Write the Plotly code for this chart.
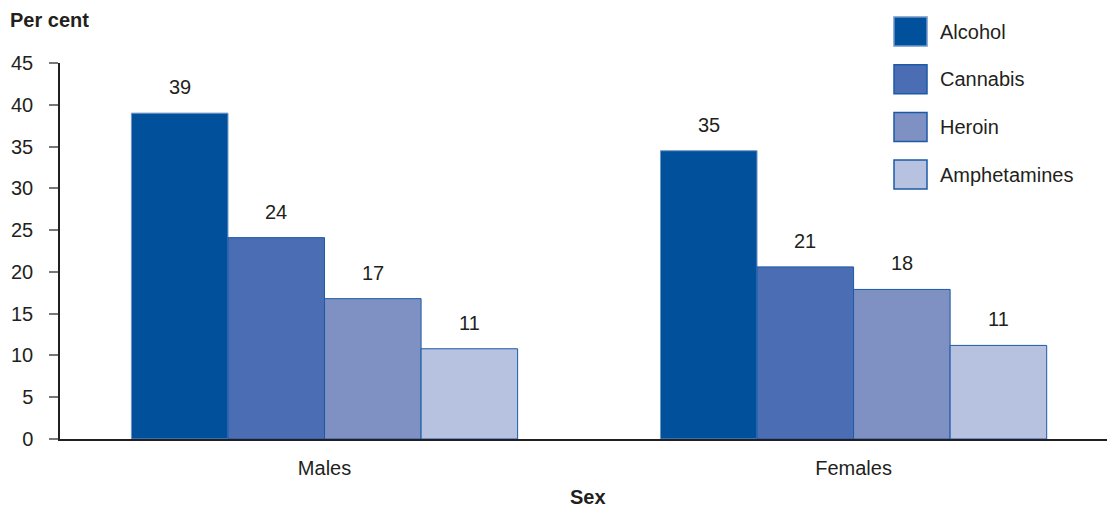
import plotly.graph_objects as go

categories = ["Males", "Females"]
series_names = ["Alcohol", "Cannabis", "Heroin", "Amphetamines"]
alcohol = [39.0, 34.5]
cannabis = [24.1, 20.6]
heroin = [16.8, 17.9]
amphetamines = [10.8, 11.2]
labels = {
    "Alcohol": ["39", "35"],
    "Cannabis": ["24", "21"],
    "Heroin": ["17", "18"],
    "Amphetamines": ["11", "11"],
}
y_ticks = [0, 5, 10, 15, 20, 25, 30, 35, 40, 45]

values = [alcohol, cannabis, heroin, amphetamines]
colors = ["#00509c", "#4a6db3", "#7f91c3", "#b7c1e0"]
edge = ["#6f95c8", "#1c5aa8", "#1c5aa8", "#1c5aa8"]

FONT = "Liberation Sans, Arial, Helvetica, sans-serif"
TXT = "#231f20"
FS = 20

L, R, T, B = 60, 0, 63, 69
W, H = 1107, 508
pw, ph = W - L - R, H - T - B

bargap = 0.27
fig = go.Figure()
for name, vals, c, e in zip(series_names, values, colors, edge):
    fig.add_trace(go.Bar(
        name=name, x=categories, y=vals,
        marker=dict(color=c, line=dict(color=e, width=1)),
        showlegend=False, hoverinfo="x+y+name",
    ))

# value labels above bars
n = len(series_names)
bw = (1 - bargap) / n
annotations = []
for j, name in enumerate(series_names):
    off = -(1 - bargap) / 2 + bw * (j + 0.5)
    for i, cat in enumerate(categories):
        annotations.append(dict(
            x=i + off, y=values[j][i], xref="x", yref="y",
            text=labels[name][i], showarrow=False,
            yanchor="middle", yshift=26,
            font=dict(family=FONT, size=FS, color=TXT),
        ))

# custom legend
sq_x0, sq_w, sq_h = 894, 33, 29
row0, row_step = 17, 47.7
shapes = []
for j, name in enumerate(series_names):
    top = row0 + j * row_step
    shapes.append(dict(
        type="rect", xref="paper", yref="paper",
        x0=(sq_x0 - L) / pw, x1=(sq_x0 + sq_w - L) / pw,
        y0=(H - B - top) / ph, y1=(H - B - top - sq_h) / ph,
        fillcolor=colors[j], line=dict(color=edge[j], width=1.5),
    ))
    annotations.append(dict(
        x=(938 - L) / pw, y=(H - B - top - sq_h / 2) / ph,
        xref="paper", yref="paper", xanchor="left", yanchor="middle",
        text=name, showarrow=False,
        font=dict(family=FONT, size=FS, color=TXT),
    ))

annotations.append(dict(
    x=0, y=1, xref="paper", yref="paper", xanchor="left", yanchor="middle",
    xshift=-52, yshift=43, text="<b>Per cent</b>", showarrow=False,
    font=dict(family=FONT, size=FS, color=TXT),
))
annotations.append(dict(
    x=0.5, y=0, xref="paper", yref="paper", xanchor="center", yanchor="middle",
    xshift=4, yshift=-58, text="<b>Sex</b>", showarrow=False,
    font=dict(family=FONT, size=FS, color=TXT),
))

fig.update_layout(
    width=W, height=H,
    margin=dict(l=L, r=R, t=T, b=B),
    paper_bgcolor="white", plot_bgcolor="white",
    barmode="group", bargap=bargap, bargroupgap=0,
    font=dict(family=FONT, size=FS, color=TXT),
    annotations=annotations, shapes=shapes,
    xaxis=dict(
        type="category", range=[-0.5, 1.479],
        showline=True, linecolor="#231f20", linewidth=1.5,
        ticks="", showgrid=False, zeroline=False,
        tickfont=dict(family=FONT, size=FS, color=TXT),
        ticklabelstandoff=10,
    ),
    yaxis=dict(
        range=[0, 45], tickvals=y_ticks,
        showline=True, linecolor="#231f20", linewidth=1.5,
        ticks="outside", ticklen=9, tickcolor="#777777", tickwidth=1.5,
        showgrid=False, zeroline=False,
        tickfont=dict(family=FONT, size=FS, color=TXT),
        ticklabelstandoff=12,
    ),
)

fig.write_html(
    "out.html",
    config={"displayModeBar": False},
    post_script="document.body.style.margin='0';document.body.style.padding='0';",
)
